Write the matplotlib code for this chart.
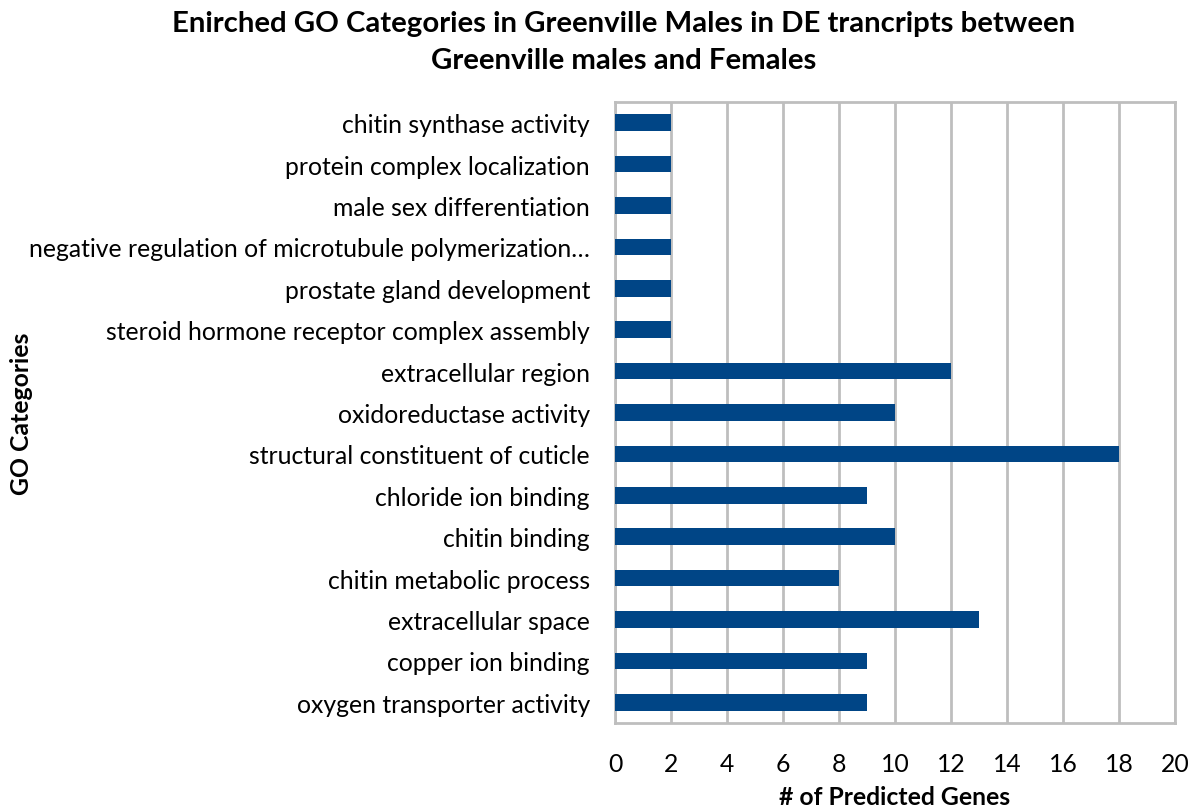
import matplotlib
matplotlib.use("Agg")
import matplotlib.pyplot as plt

categories = [
    "chitin synthase activity",
    "protein complex localization",
    "male sex differentiation",
    "negative regulation of microtubule polymerization\u2026",
    "prostate gland development",
    "steroid hormone receptor complex assembly",
    "extracellular region",
    "oxidoreductase activity",
    "structural constituent of cuticle",
    "chloride ion binding",
    "chitin binding",
    "chitin metabolic process",
    "extracellular space",
    "copper ion binding",
    "oxygen transporter activity",
]
values = [2, 2, 2, 2, 2, 2, 12, 10, 18, 9, 10, 8, 13, 9, 9]
xticks = list(range(0, 21, 2))

plt.rcParams['font.family'] = ['Lato', 'DejaVu Sans']

fig = plt.figure(figsize=(11.98, 8.12), dpi=100)
ax = fig.add_axes([615/1198, 1-724/812, (1175-615)/1198, (724-103)/812])

n = len(categories)
ypos = list(range(n))
ax.barh(ypos, values, height=0.4, color="#004586", zorder=3)
ax.set_ylim(n - 0.5, -0.5)
ax.set_xlim(0, 20)
ax.set_xticks(xticks)
ax.set_xticklabels([str(t) for t in xticks], fontsize=17.8)
ax.set_yticks(ypos)
ax.set_yticklabels(categories, fontsize=17.8)
ax.tick_params(axis='both', length=0)
ax.tick_params(axis='y', pad=18)
ax.tick_params(axis='x', pad=21)
ax.grid(axis='x', color="#BEBEBE", linewidth=2, zorder=0)
for s in ax.spines.values():
    s.set_color("#BEBEBE")
    s.set_linewidth(2)

fig.text(624/1198, 1-24/812, "Enirched GO Categories in Greenville Males in DE trancripts between",
         ha='center', va='center', fontsize=21.2, fontweight='bold')
fig.text(624/1198, 1-61/812, "Greenville males and Females",
         ha='center', va='center', fontsize=21.2, fontweight='bold')
fig.text(895/1198, 1-798/812, "# of Predicted Genes", ha='center', va='center',
         fontsize=17.8, fontweight='bold')
fig.text(22/1198, 1-414/812, "GO Categories", ha='center', va='center',
         fontsize=17.8, fontweight='bold', rotation=90)

fig.savefig("out.png", dpi=100)
